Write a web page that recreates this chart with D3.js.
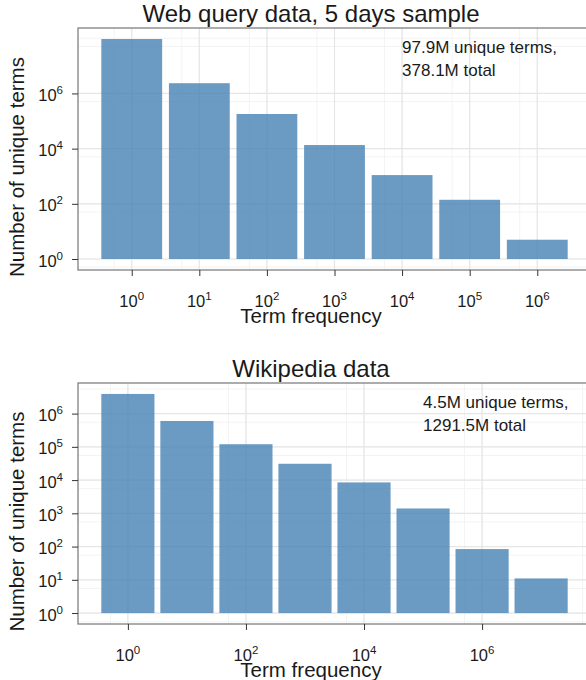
<!DOCTYPE html>
<html lang="en">
  <head>
    <meta charset="utf-8" />
    <title>Term frequency histograms</title>
    <script src="https://d3js.org/d3.v7.min.js"></script>
    <style>
      body { margin: 0; background: #fff; }
      svg text { font-family: "Liberation Sans", Arial, sans-serif; fill: #1a1a1a; }
      .tick line { stroke: #333; }
    </style>
  </head>
  <body>
    <script>
      // Web query data, 5 days sample (one bar per decade of term frequency)
      var webFreq = [1, 10, 100, 1e3, 1e4, 1e5, 1e6];
      var webCounts = [9.4e7, 2.35e6, 1.8e5, 1.35e4, 1.1e3, 140, 5];
      var webXTicks = [1, 10, 100, 1e3, 1e4, 1e5, 1e6];
      var webYTicks = [1, 100, 1e4, 1e6];
      var webNote = ["97.9M unique terms,", "378.1M total"];

      // Wikipedia data
      var wikiFreq = [1, 10, 100, 1e3, 1e4, 1e5, 1e6, 1e7];
      var wikiCounts = [3.9e6, 6.0e5, 1.2e5, 3.1e4, 8.5e3, 1.4e3, 84, 11];
      var wikiXTicks = [1, 100, 1e4, 1e6];
      var wikiYTicks = [1, 10, 100, 1e3, 1e4, 1e5, 1e6];
      var wikiNote = ["4.5M unique terms,", "1291.5M total"];

      var W = 586, H = 680;
      var svg = d3.select("body").append("svg").attr("width", W).attr("height", H);

      // ggplot-like minor breaks: one step beyond the ends, plus linear midpoints
      function minorBreaks(b) {
        var step = b[1] / b[0];
        var ext = [b[0] / step].concat(b, [b[b.length - 1] * step]);
        var out = ext.slice();
        for (var i = 0; i < ext.length - 1; i++) out.push((ext[i] + ext[i + 1]) / 2);
        return out;
      }

      function pow10Label(sel, v) {
        sel.append("tspan").text("10");
        sel.append("tspan").attr("dy", -7).style("font-size", "11.5px")
          .text(Math.round(Math.log10(v)));
      }

      function panel(o, id) {
        var lx = o.freq.map(Math.log10), ly = o.counts.map(Math.log10);
        var x0 = d3.min(lx) - 0.45, x1 = d3.max(lx) + 0.45, ex = (x1 - x0) * 0.05;
        var y1 = d3.max(ly), ey = y1 * 0.05;

        var x = d3.scaleLog().domain([Math.pow(10, x0 - ex), Math.pow(10, x1 + ex)])
          .range([o.left, o.right]);
        var y = d3.scaleLog().domain([Math.pow(10, -ey), Math.pow(10, y1 + ey)])
          .range([o.bottom, o.top]);

        var g = svg.append("g");
        svg.append("clipPath").attr("id", id).append("rect")
          .attr("x", o.left).attr("y", o.top)
          .attr("width", o.right - o.left).attr("height", o.bottom - o.top);

        var grid = g.append("g").attr("clip-path", "url(#" + id + ")");
        // minor grid
        grid.selectAll(".mx").data(minorBreaks(o.xTicks)).enter().append("line")
          .attr("x1", x).attr("x2", x).attr("y1", o.top).attr("y2", o.bottom)
          .attr("stroke", "#f3f3f3").attr("stroke-width", 1);
        grid.selectAll(".my").data(minorBreaks(o.yTicks)).enter().append("line")
          .attr("y1", y).attr("y2", y).attr("x1", o.left).attr("x2", o.right)
          .attr("stroke", "#f3f3f3").attr("stroke-width", 1);
        // major grid
        grid.selectAll(".gx").data(o.xTicks).enter().append("line")
          .attr("x1", x).attr("x2", x).attr("y1", o.top).attr("y2", o.bottom)
          .attr("stroke", "#e6e6e6").attr("stroke-width", 1.2);
        grid.selectAll(".gy").data(o.yTicks).enter().append("line")
          .attr("y1", y).attr("y2", y).attr("x1", o.left).attr("x2", o.right)
          .attr("stroke", "#e6e6e6").attr("stroke-width", 1.2);

        // bars
        var half = Math.pow(10, 0.45);
        g.selectAll("rect.bar").data(o.freq).enter().append("rect")
          .attr("class", "bar")
          .attr("x", function (d) { return x(d / half); })
          .attr("width", function (d) { return x(d * half) - x(d / half); })
          .attr("y", function (d, i) { return y(o.counts[i]); })
          .attr("height", function (d, i) { return y(1) - y(o.counts[i]); })
          .attr("fill", "steelblue").attr("fill-opacity", 0.8);

        // panel border
        g.append("rect").attr("x", o.left).attr("y", o.top)
          .attr("width", o.right - o.left).attr("height", o.bottom - o.top)
          .attr("fill", "none").attr("stroke", "#808080").attr("stroke-width", 1.3);

        // axes (ticks only, labels drawn below)
        g.append("g").attr("transform", "translate(0," + o.bottom + ")")
          .call(d3.axisBottom(x).tickValues(o.xTicks).tickSize(6).tickFormat(""))
          .call(function (a) { a.select(".domain").remove(); });
        g.append("g").attr("transform", "translate(" + o.left + ",0)")
          .call(d3.axisLeft(y).tickValues(o.yTicks).tickSize(6).tickFormat(""))
          .call(function (a) { a.select(".domain").remove(); });

        g.selectAll("text.xt").data(o.xTicks).enter().append("text")
          .attr("class", "xt").attr("x", x).attr("y", o.bottom + 37)
          .attr("text-anchor", "middle").style("font-size", "16.5px")
          .each(function (d) { pow10Label(d3.select(this), d); });
        g.selectAll("text.yt").data(o.yTicks).enter().append("text")
          .attr("class", "yt").attr("x", o.left - 15).attr("y", function (d) { return y(d) + 7.5; })
          .attr("text-anchor", "end").style("font-size", "16.5px")
          .each(function (d) { pow10Label(d3.select(this), d); });

        // annotation
        g.selectAll("text.note").data(o.note).enter().append("text")
          .attr("class", "note").attr("x", x(o.noteX))
          .attr("y", function (d, i) { return o.top + 24.5 + i * 23.5; })
          .style("font-size", "17px").text(function (d) { return d; });

        // titles
        g.append("text").attr("x", 311).attr("y", o.top - 6.5)
          .attr("text-anchor", "middle").style("font-size", "24px").text(o.title);
        g.append("text").attr("x", 311).attr("y", o.bottom + 52.5)
          .attr("text-anchor", "middle").style("font-size", "20.5px").text("Term frequency");
        g.append("text")
          .attr("transform", "translate(24," + ((o.top + o.bottom) / 2 + 18) + ") rotate(-90)")
          .attr("text-anchor", "middle").style("font-size", "20.5px")
          .text("Number of unique terms");
      }

      panel({
        title: "Web query data, 5 days sample",
        freq: webFreq, counts: webCounts, xTicks: webXTicks, yTicks: webYTicks,
        note: webNote, noteX: 1e4,
        left: 78, right: 591, top: 28, bottom: 270
      }, "clipWeb");

      panel({
        title: "Wikipedia data",
        freq: wikiFreq, counts: wikiCounts, xTicks: wikiXTicks, yTicks: wikiYTicks,
        note: wikiNote, noteX: 1e5,
        left: 78, right: 591, top: 383, bottom: 624
      }, "clipWiki");
    </script>
  </body>
</html>
